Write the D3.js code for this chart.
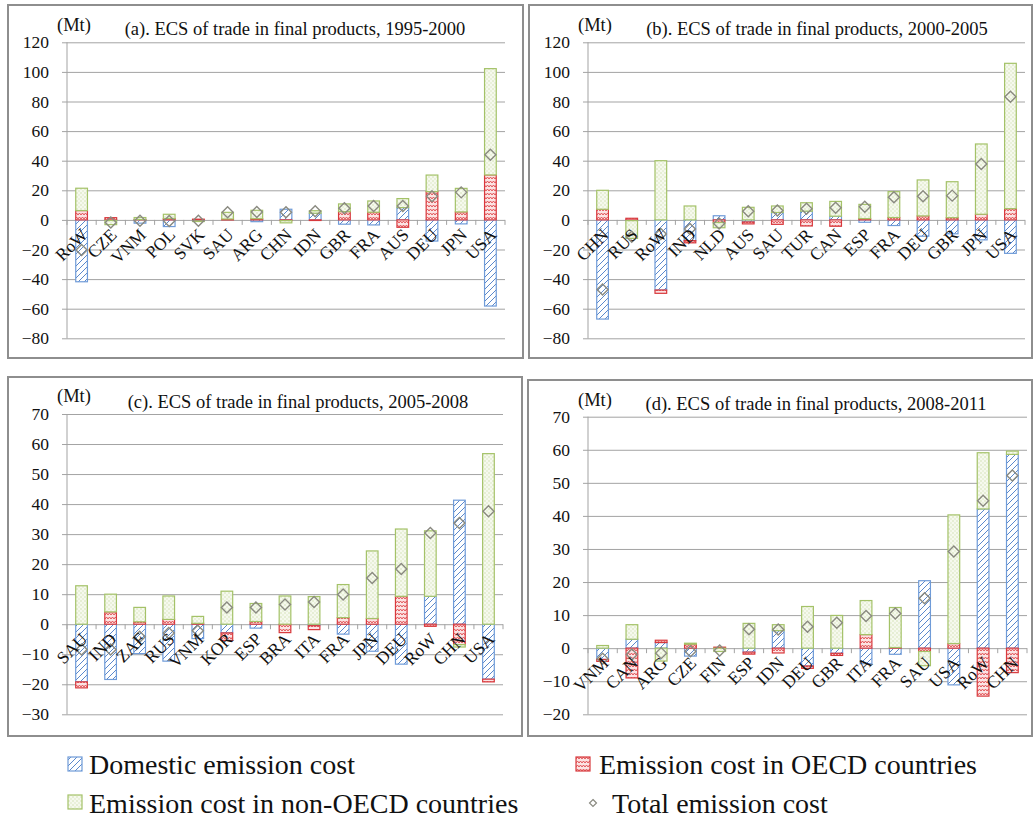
<!DOCTYPE html>
<html>
<head>
<meta charset="utf-8">
<script src="https://cdn.jsdelivr.net/npm/d3@7"></script>
<style>
  html, body { margin: 0; padding: 0; background: #fff; }
  svg { display: block; }
  svg text { font-family: "Liberation Serif", "DejaVu Serif", serif; fill: #111; }
</style>
</head>
<body>
<svg id="chart" width="1033" height="820"></svg>
<script>
// ---- (a) 1995-2000 ----
const catsA = ["RoW","CZE","VNM","POL","SVK","SAU","ARG","CHN","IDN","GBR","FRA","AUS","DEU","JPN","USA"];
const domA  = [-41.8,-0.4,-2.2,-4.5,-0.8, 0.0,-1.2, 7.2, 4.5,-2.9,-3.4, 8.3,-14.3,-2.7,-58.2];
const oecdA = [  6.3, 1.5, 0.2, 0.9, 0.5, 0.6, 0.8,-0.5,-0.4, 5.6, 5.2,-5.0, 19.1, 5.4, 30.4];
const nonA  = [ 15.1,-2.8, 1.4, 2.9,-0.3, 4.5, 5.7,-1.5, 1.7, 5.2, 7.6, 6.1, 11.2,15.9, 71.8];

// ---- (b) 2000-2005 ----
const catsB = ["CHN","RUS","RoW","IND","NLD","AUS","SAU","TUR","CAN","ESP","FRA","DEU","GBR","JPN","USA"];
const domB  = [-67.0,-0.5,-47.4,-14.0, 2.8,-1.4, 5.0, 5.9, 2.5,-1.6,-3.8,-11.0,-9.4,-13.5,-22.6];
const oecdB = [  7.2, 1.1, -2.2, -1.5,-1.8,-1.3,-3.0,-4.1,-4.3, 0.9, 1.6,  2.7, 1.5,  3.8,  7.6];
const nonB  = [ 12.8,-12.0, 40.0, 9.4,-3.5, 8.5, 4.4, 5.7,10.0, 9.6,17.5, 24.3,24.3, 47.5, 98.2];

// ---- (c) 2005-2008 ----
const catsC = ["SAU","IND","ZAF","RUS","VNM","KOR","ESP","BRA","ITA","FRA","JPN","DEU","RoW","CHN","USA"];
const domC  = [-19.2,-18.4,-9.8,-12.3,-4.8,-2.9,-1.3, 0.0,-0.5,-3.3,-9.0,-13.3, 9.3,41.3,-18.3];
const oecdC = [ -2.0,  4.1, 0.8,  1.6, 0.3,-2.5, 0.9,-2.8,-1.3, 2.2, 1.9,  9.3,-0.7,-6.8, -0.9];
const nonC  = [ 12.8,  5.9, 4.8,  7.8, 2.3,11.0, 6.0, 9.4, 9.2,11.0,22.5, 22.4,21.8,-0.8, 56.8];

// ---- (d) 2008-2011 ----
const catsD = ["VNM","CAN","ARG","CZE","FIN","ESP","IDN","DEU","GBR","ITA","FRA","SAU","USA","RoW","CHN"];
const domD  = [-3.4, 2.7, 1.7,-2.4, 0.0,-1.2, 5.3,-5.4,-1.55,-4.7,-1.85,20.4,-11.1,42.1,58.6];
const oecdD = [-0.6,-9.0, 0.7, 1.2, 0.3,-0.6,-1.45,-0.7,-0.65, 4.1, 0.2,-1.0,  1.4,-14.5,-7.4];
const nonD  = [ 0.8, 4.4,-3.9, 0.3,-1.0, 7.5, 1.8,12.6, 9.9,10.3,12.1,-4.3, 38.9,17.0, 1.0];

const ticksAB = [-80,-60,-40,-20,0,20,40,60,80,100,120];
const ticksC  = [-30,-20,-10,0,10,20,30,40,50,60,70];
const ticksD  = [-20,-10,0,10,20,30,40,50,60,70];

const seriesNames = ["Domestic emission cost","Emission cost in OECD countries","Emission cost in non-OECD countries"];
const totalName = "Total emission cost";

const FONT = '"Liberation Serif", "DejaVu Serif", serif';

const svg = d3.select("#chart");
const defs = svg.append("defs");

// fill patterns: blue hatch, red zigzag, green dots
const pDom = defs.append("pattern").attr("id","pDom").attr("patternUnits","userSpaceOnUse")
  .attr("width",6).attr("height",6);
pDom.append("rect").attr("width",6).attr("height",6).attr("fill","#ffffff");
pDom.append("path").attr("d","M-1,7 L7,-1 M-1,1 L1,-1 M5,7 L7,5")
  .attr("stroke","#5a88cc").attr("stroke-width",1);

const pOecd = defs.append("pattern").attr("id","pOecd").attr("patternUnits","userSpaceOnUse")
  .attr("width",6).attr("height",4);
pOecd.append("rect").attr("width",6).attr("height",4).attr("fill","#fbe3e3");
pOecd.append("path").attr("d","M0,3 L1.5,1 L3,3 L4.5,1 L6,3")
  .attr("stroke","#e0474b").attr("stroke-width",0.9).attr("fill","none");

const pNon = defs.append("pattern").attr("id","pNon").attr("patternUnits","userSpaceOnUse")
  .attr("width",4).attr("height",4);
pNon.append("rect").attr("width",4).attr("height",4).attr("fill","#f6f9ee");
pNon.append("rect").attr("x",0.5).attr("y",0.5).attr("width",1).attr("height",1).attr("fill","#b6cf86");
pNon.append("rect").attr("x",2.5).attr("y",2.5).attr("width",1).attr("height",1).attr("fill","#c9dca4");

const fills = ["url(#pDom)","url(#pOecd)","url(#pNon)"];
const strokes = ["#6f9bd8","#d8393d","#a4c268"];

const panels = [
  {title:"(a). ECS of trade in final products, 1995-2000", cats:catsA, s:[domA,oecdA,nonA], ticks:ticksAB,
   box:[8,5,515,353], x0:67, x1:505, yTop:42.3, yBot:338.3, titleX:295, titleY:35, mtX:57, mtY:31},
  {title:"(b). ECS of trade in final products, 2000-2005", cats:catsB, s:[domB,oecdB,nonB], ticks:ticksAB,
   box:[529,5,503,353], x0:588, x1:1025, yTop:42.3, yBot:338.3, titleX:817, titleY:35, mtX:578, mtY:31},
  {title:"(c). ECS of trade in final products, 2005-2008", cats:catsC, s:[domC,oecdC,nonC], ticks:ticksC,
   box:[8,377,514,359], x0:67, x1:503, yTop:414, yBot:714.3, titleX:298, titleY:408, mtX:57, mtY:402},
  {title:"(d). ECS of trade in final products, 2008-2011", cats:catsD, s:[domD,oecdD,nonD], ticks:ticksD,
   box:[528,380,504,356], x0:588, x1:1027, yTop:416.7, yBot:714.3, titleX:816, titleY:410, mtX:578, mtY:406}
];

function diamondPath(r){ return `M0,${-r} L${r},0 L0,${r} L${-r},0 Z`; }

panels.forEach(p => {
  const g = svg.append("g");
  // panel frame
  g.append("rect").attr("x",p.box[0]).attr("y",p.box[1]).attr("width",p.box[2]).attr("height",p.box[3])
    .attr("fill","none").attr("stroke","#8e8e8e").attr("stroke-width",2);

  const y = d3.scaleLinear().domain(d3.extent(p.ticks)).range([p.yBot, p.yTop]);
  const x = d3.scaleBand().domain(p.cats).range([p.x0, p.x1]).paddingInner(0.565).paddingOuter(0.2825);
  const step = x.step();

  // y axis with gridlines
  const yAxis = d3.axisLeft(y).tickValues(p.ticks).tickSize(-(p.x1 - p.x0 + 5)).tickPadding(13).tickFormat(d3.format("d"));
  const ya = g.append("g").attr("transform",`translate(${p.x0-5},0)`).call(yAxis);
  ya.attr("font-family", FONT);
  ya.select(".domain").remove();
  ya.selectAll(".tick line").attr("stroke","#a3a3a3").attr("stroke-width",1);
  ya.selectAll(".tick text").attr("font-size","17.5px").style("font-family", FONT).attr("fill","#111");
  g.append("line").attr("x1",p.x0).attr("x2",p.x0).attr("y1",p.yTop).attr("y2",p.yBot)
    .attr("stroke","#a3a3a3").attr("stroke-width",1);

  // stacked data (positives up, negatives down, series order kept)
  const rows = p.cats.map((c,i) => ({cat:c, d:p.s[0][i], o:p.s[1][i], n:p.s[2][i]}));
  const stack = d3.stack().keys(["d","o","n"]).offset(d3.stackOffsetDiverging);
  const layers = stack(rows);
  layers.forEach((layer, k) => {
    g.append("g").selectAll("rect").data(layer).join("rect")
      .attr("x", d => x(d.data.cat) + 0.5)
      .attr("width", x.bandwidth() - 1)
      .attr("y", d => y(Math.max(d[0], d[1])))
      .attr("height", d => Math.abs(y(d[0]) - y(d[1])))
      .attr("fill", fills[k])
      .attr("stroke", strokes[k]).attr("stroke-width",1.2);
  });

  // x-axis tick marks at category boundaries on the zero line
  const y0 = y(0);
  const bounds = p.cats.map(c => x(c) - step * 0.2825).concat([p.x1]);
  g.append("g").selectAll("line").data(bounds).join("line")
    .attr("x1", d => d).attr("x2", d => d).attr("y1", y0).attr("y2", y0 + 5)
    .attr("stroke","#a3a3a3").attr("stroke-width",1);

  // total markers
  g.append("g").selectAll("path").data(rows).join("path")
    .attr("d", diamondPath(5.5))
    .attr("transform", d => `translate(${x(d.cat) + x.bandwidth()/2},${y(d.d + d.o + d.n)})`)
    .attr("fill","none").attr("stroke","#8a8a80").attr("stroke-width",1.4);

  // category labels, rotated
  const xAxis = d3.axisBottom(x).tickSize(0).tickPadding(0);
  const xa = g.append("g").attr("transform",`translate(0,${y0})`).call(xAxis);
  xa.attr("font-family", FONT);
  xa.select(".domain").remove();
  xa.selectAll(".tick text")
    .attr("font-size","17.5px").style("font-family", FONT).attr("fill","#111")
    .attr("text-anchor","end").attr("dy",null).attr("y",0)
    .attr("transform","translate(7,16) rotate(-45)");

  // titles
  g.append("text").attr("x",p.titleX).attr("y",p.titleY).attr("text-anchor","middle")
    .attr("font-size","18.5px").style("font-family", FONT).text(p.title);
  g.append("text").attr("x",p.mtX).attr("y",p.mtY).attr("font-size","18.5px").style("font-family", FONT).text("(Mt)");
});

// legend
const leg = svg.append("g");
const legItems = [
  {k:0, x:68, y:757, tx:89, ty:774, label:seriesNames[0]},
  {k:1, x:576, y:757, tx:599, ty:774, label:seriesNames[1]},
  {k:2, x:68, y:795, tx:89, ty:813, label:seriesNames[2]}
];
legItems.forEach(it => {
  leg.append("rect").attr("x",it.x).attr("y",it.y).attr("width",14).attr("height",14)
    .attr("fill",fills[it.k]).attr("stroke",strokes[it.k]).attr("stroke-width",1.2);
  leg.append("text").attr("x",it.tx).attr("y",it.ty).attr("font-size","28px").style("font-family", FONT).text(it.label);
});
leg.append("path").attr("d",diamondPath(3.5)).attr("transform","translate(593,803)")
  .attr("fill","none").attr("stroke","#8a8a80").attr("stroke-width",1.2);
leg.append("text").attr("x",612).attr("y",813).attr("font-size","28px").style("font-family", FONT).text(totalName);
</script>
</body>
</html>
